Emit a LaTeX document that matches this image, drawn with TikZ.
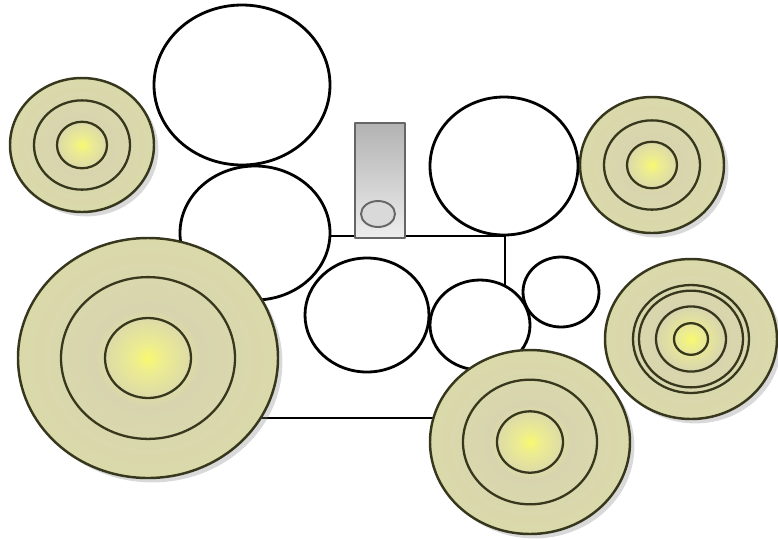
\documentclass[tikz,border=0pt]{standalone}
\usepackage{xcolor}
\usetikzlibrary{shadows}

\definecolor{padrim}{RGB}{200,200,148}
\definecolor{padedge}{RGB}{220,220,168}
\definecolor{padmid}{RGB}{216,213,174}
\definecolor{padglow}{RGB}{236,236,145}
\definecolor{padcore}{RGB}{248,248,112}
\definecolor{ringline}{RGB}{55,55,30}

\pgfdeclareradialshading{padshade}{\pgfpoint{0bp}{0bp}}{color(0bp)=(padcore); color(3bp)=(padglow); color(10bp)=(padmid); color(34bp)=(padedge); color(50bp)=(padrim)}

\begin{document}
\begin{tikzpicture}[x=0.02cm, y=-0.02cm, line join=round,
    disc/.style={draw=black, fill=white, line width=1.6pt},
    target/.style={draw=ringline, line width=1.4pt, shading=padshade, shade,
        drop shadow={opacity=0.3, shadow xshift=2.5pt, shadow yshift=-2.5pt}},
    ring/.style={draw=ringline, line width=1.3pt}]
        \useasboundingbox (0,0) rectangle (778,539);
        \def\sq{0.93}

        % frame behind the drums
        \coordinate (frameNW) at (250,236);
        \coordinate (frameSE) at (505,418);
        \draw[line width=1.6pt] (frameNW) rectangle (frameSE);

        % pedal
        \coordinate (pedalNW) at (355,123);
        \coordinate (pedalSE) at (405,238);
        \coordinate (pedalKnob) at (378,214);
        \shade[top color=black!30, bottom color=black!7, draw=black!60, line width=1.1pt] (pedalNW) rectangle (pedalSE);
        \draw[fill=black!15, draw=black!60, line width=1.1pt] (pedalKnob) ellipse (17 and 13);

        % drums
        \coordinate (tomTop) at (242,85);
        \coordinate (tomLeft) at (255,233);
        \coordinate (tomRight) at (504,166);
        \coordinate (snare) at (367,315);
        \coordinate (tomMid) at (480,325);
        \coordinate (tomSmall) at (561,292);
        \draw[disc] (tomTop) ellipse (88 and 80);
        \draw[disc] (tomLeft) ellipse (75 and 67);
        \draw[disc] (tomRight) ellipse (74 and 69);
        \draw[disc] (snare) ellipse (62 and 57);
        \draw[disc] (tomMid) ellipse (50 and 45);
        \draw[disc] (tomSmall) ellipse (38 and 35);

        % cymbals
        \foreach \cx/\cy/\a/\b in {82/145/72/67, 148/358/130/120, 652/165/72/68, 691/339/86/80, 530/442/100/92}
            \path[target] (\cx,\cy) ellipse [x radius=\a, y radius=\b];
        \foreach \cx/\cy/\r in {82/145/48, 82/145/25, 148/358/87, 148/358/43, 652/165/48, 652/165/25,
                691/339/58, 691/339/52, 691/339/35, 691/339/17, 530/442/67, 530/442/33}
            \draw[ring] (\cx,\cy) ellipse [x radius=\r, y radius=\r*\sq];

    \end{tikzpicture}
\end{document}
